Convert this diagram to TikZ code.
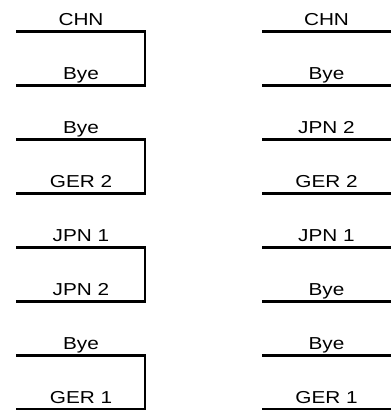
\documentclass[tikz,border=0pt]{standalone}
\usepackage{fontspec}
\setmainfont{Liberation Sans}[FakeStretch=1.2]

\begin{document}
\begin{tikzpicture}[x=1pt, y=-1pt, line width=2.5pt, line join=miter,
    team/.style={anchor=base, inner sep=0pt, font=\fontsize{17.3}{17.3}\selectfont}]
        \useasboundingbox (0, 0) rectangle (391, 410);

        % left column, each pair joined by a bracket
        \foreach \i/\up/\down in {0/CHN/Bye, 1/Bye/GER 2, 2/JPN 1/JPN 2, 3/Bye/GER 1} {
            \pgfmathsetmacro{\ya}{31.3 + 108*\i}
            \pgfmathsetmacro{\yb}{\ya + 54}
            \coordinate (la\i) at (16, \ya);
            \coordinate (lb\i) at (16, \yb);
            \node[team] (lup\i) at (81, \ya - 6.3) {\up};
            \node[team] (ldown\i) at (81, \yb - 6.3) {\down};
            \draw (la\i) -- (145, \ya) |- (lb\i);
        }

        % right column, single lines
        \foreach \i/\name in {0/CHN, 1/Bye, 2/JPN 2, 3/GER 2, 4/JPN 1, 5/Bye, 6/Bye, 7/GER 1} {
            \pgfmathsetmacro{\y}{31.3 + 54*\i}
            \coordinate (ra\i) at (262, \y);
            \coordinate (rb\i) at (391, \y);
            \node[team] (r\i) at (326.5, \y - 6.3) {\name};
            \draw (ra\i) -- (rb\i);
        }
    \end{tikzpicture}
\end{document}
